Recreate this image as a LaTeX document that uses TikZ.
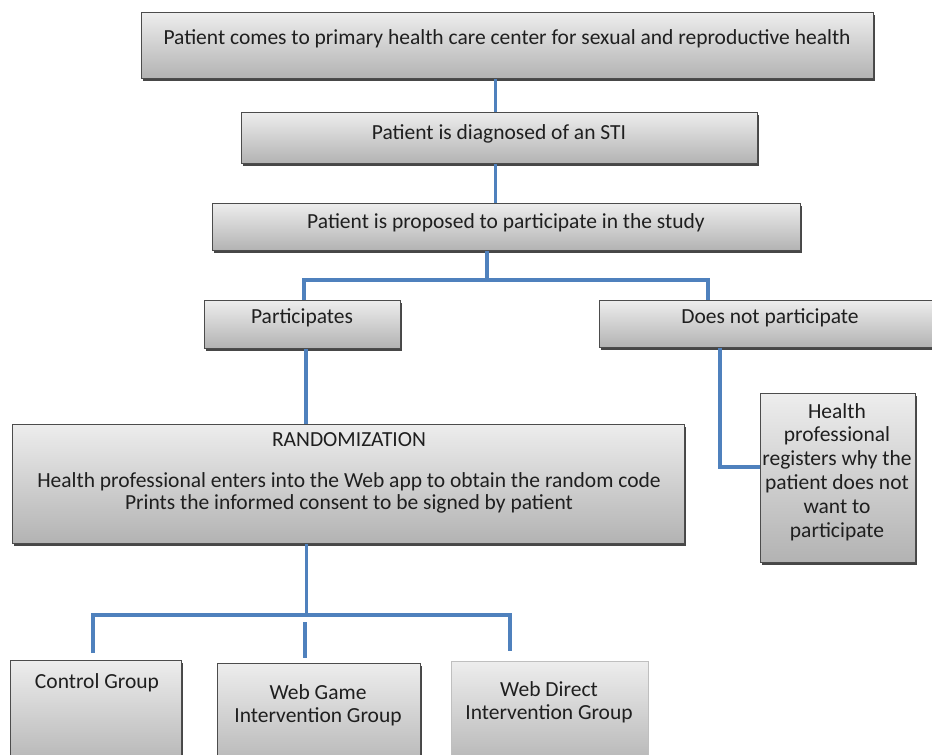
\documentclass[tikz,border=0pt]{standalone}
\usepackage{fontspec}
\setmainfont{Carlito}
\usetikzlibrary{shadows}
\definecolor{conncol}{HTML}{4F81BD}
\tikzset{
  box/.style={draw=black!70, line width=0.9pt, top color=black!7, bottom color=black!30,
    anchor=north west, inner sep=0pt,
    drop shadow={shadow xshift=1.8pt, shadow yshift=-2.2pt, fill=black!72, opacity=1}},
  plainbox/.style={draw=black!25, line width=0.6pt, top color=black!7, bottom color=black!30,
    anchor=north west, inner sep=0pt},
  txt/.style={font=\fontsize{21.5}{23}\selectfont, align=center, anchor=north, inner sep=0pt, text=black!88},
  conn/.style={draw=conncol, line width=3.4pt},
}
\begin{document}
\begin{tikzpicture}[x=1pt,y=-1pt]
\useasboundingbox[fill=white] (0,0) rectangle (932,755);
% boxes
\node[box, minimum width=732pt, minimum height=66pt] (b1) at (141,12) {};
\node[box, minimum width=516pt, minimum height=51pt] (b2) at (241,112) {};
\node[box, minimum width=588pt, minimum height=47pt] (b3) at (212,203) {};
\node[box, minimum width=196pt, minimum height=48pt] (b4) at (204,300) {};
\node[box, minimum width=345pt, minimum height=47pt] (b5) at (599,300) {};
\node[box, minimum width=155pt, minimum height=169pt] (b6) at (760,393) {};
\node[box, minimum width=672pt, minimum height=119pt] (b7) at (12,424) {};
\node[box, minimum width=171pt, minimum height=110pt] (b8) at (10,660) {};
\node[box, minimum width=203pt, minimum height=110pt] (b9) at (217,663) {};
\node[plainbox, minimum width=197pt, minimum height=110pt] (b10) at (451,661) {};
% texts
\node[txt] (t1) at (507,29) {Patient comes to primary health care center for sexual and reproductive health};
\node[txt] (t2) at (499,124) {Patient is diagnosed of an STI};
\node[txt] (t3) at (506,213) {Patient is proposed to participate in the study};
\node[txt] (t4) at (302,308) {Participates};
\node[txt] (t5) at (770,308) {Does not participate};
\node[txt, font=\fontsize{21.5}{23.8}\selectfont] (t6) at (837,403) {Health\\professional\\registers why the\\patient does not\\want to\\participate};
\node[txt, font=\fontsize{21.5}{22}\selectfont] (t7) at (349,432) {RANDOMIZATION\\[19pt]Health professional enters into the Web app to obtain the random code\\Prints the informed consent to be signed by patient};
\node[txt] (t8) at (97,673) {Control Group};
\node[txt] (t9) at (318,684) {Web Game\\Intervention Group};
\node[txt] (t10) at (549,681) {Web Direct\\Intervention Group};
% connector coordinates
\coordinate (c1) at (495.5,0);
\coordinate (j1) at (487,280);
\coordinate (l1) at (304,280);
\coordinate (r1) at (708,280);
\coordinate (p1) at (306,0);
\coordinate (d1) at (720,467);
\coordinate (h1) at (306.5,615);
\coordinate (hl) at (93,615);
\coordinate (hr) at (510,615);
\coordinate (hre) at (510,651);
\coordinate (m1) at (305,622);
% connectors
\draw[conn] (b1.south -| c1) -- (b2.north -| c1);
\draw[conn] (b2.south -| c1) -- (b3.north -| c1);
\draw[conn] (b3.south -| j1) -- (j1);
\draw[conn] (b4.north -| l1) -- (l1) -- (r1) -- (b5.north -| r1);
\draw[conn] (b4.south -| p1) -- (b7.north -| p1);
\draw[conn] (b5.south -| d1) -- (d1) -- (b6.west |- d1);
\draw[conn] (b7.south -| h1) -- (h1);
\draw[conn] ([yshift=7pt]b8.north -| hl) -- (hl) -- (hr) -- (hre);
\draw[conn] (m1) -- ([yshift=5pt]b9.north -| m1);
\end{tikzpicture}
\end{document}
